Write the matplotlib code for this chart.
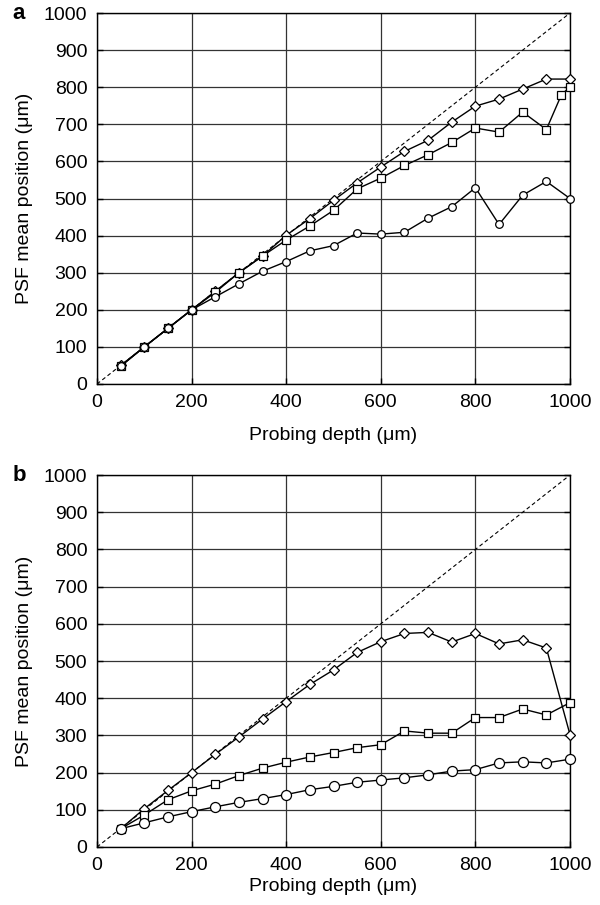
import matplotlib
matplotlib.use("Agg")
import matplotlib.pyplot as plt
import numpy as np

plt.rcParams['font.family'] = ['Liberation Sans', 'DejaVu Sans']

depth = [50, 100, 150, 200, 250, 300, 350, 400, 450, 500, 550, 600, 650, 700,
         750, 800, 850, 900, 950, 1000]

# Panel a
a_diamond = [50, 100, 150, 200, 250, 300, 345, 401, 446, 495, 542, 585, 627,
             657, 706, 749, 768, 795, 822, 822]
a_square_x = [50, 100, 150, 200, 250, 300, 350, 400, 450, 500, 550, 600, 650,
              700, 750, 800, 850, 900, 950, 982, 1000]
a_square = [48, 100, 150, 200, 247, 300, 345, 388, 426, 468, 526, 555, 589,
            618, 651, 690, 679, 733, 686, 780, 801]
a_circle = [48, 100, 150, 200, 235, 270, 304, 330, 359, 373, 407, 404, 409,
            447, 478, 529, 430, 509, 546, 500]

# Panel b
b_diamond = [49, 103, 152, 200, 249, 296, 344, 391, 437, 476, 523, 552, 574,
             577, 551, 574, 546, 557, 535, 302]
b_square = [49, 86, 127, 151, 169, 192, 212, 228, 242, 254, 267, 275, 312,
            306, 306, 348, 348, 371, 355, 388]
b_circle = [49, 65, 81, 95, 108, 120, 130, 141, 154, 163, 174, 180, 186, 194,
            204, 208, 226, 229, 226, 236]

ticks = [0, 200, 400, 600, 800, 1000]
yticks = list(range(0, 1001, 100))

fig = plt.figure(figsize=(6.0, 9.05), dpi=100)
ax_a = fig.add_axes([0.1617, 0.5757, 0.7883, 0.4099])
ax_b = fig.add_axes([0.1617, 0.0641, 0.7883, 0.4110])

FS = 14

def style(ax):
    ax.set_xlim(0, 1000)
    ax.set_ylim(0, 1000)
    ax.set_xticks(ticks)
    ax.set_yticks(yticks)
    ax.grid(True, color='#333333', linewidth=0.9)
    ax.set_axisbelow(True)
    ax.tick_params(direction='in', length=4, width=1, labelsize=FS,
                   right=True, top=False, pad=7)
    for s in ax.spines.values():
        s.set_linewidth(1.0)
        s.set_color('black')
    ax.plot([0, 1000], [0, 1000], linestyle=(0, (3.5, 2.5)), color='black',
            linewidth=0.8, zorder=2)
    ax.set_ylabel('PSF mean position (\u03bcm)', fontsize=FS, labelpad=8)

mk = dict(color='black', linewidth=1.0, markerfacecolor='white',
          markeredgecolor='black', markeredgewidth=0.9, zorder=3,
          clip_on=False)

style(ax_a)
ax_a.plot(depth, a_diamond, marker='D', markersize=5.2, **mk)
ax_a.plot(a_square_x, a_square, marker='s', markersize=5.2, **mk)
ax_a.plot(depth, a_circle, marker='o', markersize=5.5, **mk)
ax_a.set_xlabel('Probing depth (\u03bcm)', fontsize=FS, labelpad=12)

style(ax_b)
ax_b.plot(depth, b_diamond, marker='D', markersize=5.2, **mk)
ax_b.plot(depth, b_square, marker='s', markersize=5.5, **mk)
ax_b.plot(depth, b_circle, marker='o', markersize=7.2, **mk)
ax_b.set_xlabel('Probing depth (\u03bcm)', fontsize=FS, labelpad=3)

fig.text(0.021, 0.9856, 'a', fontsize=16, fontweight='bold', va='center', ha='left')
fig.text(0.021, 0.4751, 'b', fontsize=16, fontweight='bold', va='center', ha='left')

fig.savefig('out.png', dpi=100)
